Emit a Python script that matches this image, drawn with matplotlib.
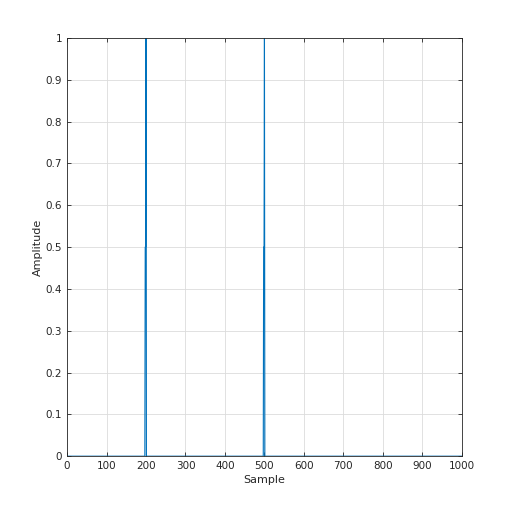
import matplotlib
matplotlib.use("Agg")
import matplotlib.pyplot as plt

# signal breakpoints (rest of samples are zero)
sample = [0, 197, 198, 199, 200, 201, 497, 498, 499, 500, 501, 1000]
amplitude = [0, 0, 0.5, 0.5, 1, 0, 0, 0.5, 0.5, 1, 0, 0]

xticks = list(range(0, 1001, 100))
yticks = [0, 0.1, 0.2, 0.3, 0.4, 0.5, 0.6, 0.7, 0.8, 0.9, 1]

fig = plt.figure(figsize=(5.12, 5.12), dpi=100)
ax = fig.add_axes([0.131, 0.109, 0.771, 0.817])
ax.plot(sample, amplitude, color='#0072BD', lw=0.8)

ax.set_xlim(0, 1000)
ax.set_ylim(0, 1)
ax.set_xticks(xticks)
ax.set_yticks(yticks)
ax.set_yticklabels([f"{v:g}" for v in yticks])
ax.grid(True, color='#dcdcdc', lw=0.6)
ax.set_axisbelow(True)
ax.tick_params(direction='in', top=True, right=True, labelsize=7.5,
               colors='#262626', length=3, width=0.6)
for s in ax.spines.values():
    s.set_color('#262626')
    s.set_linewidth(0.6)
ax.set_xlabel("Sample", fontsize=8, color='#262626', labelpad=3)
ax.set_ylabel("Amplitude", fontsize=8, color='#262626', labelpad=2)

fig.savefig("out.png", dpi=100)
